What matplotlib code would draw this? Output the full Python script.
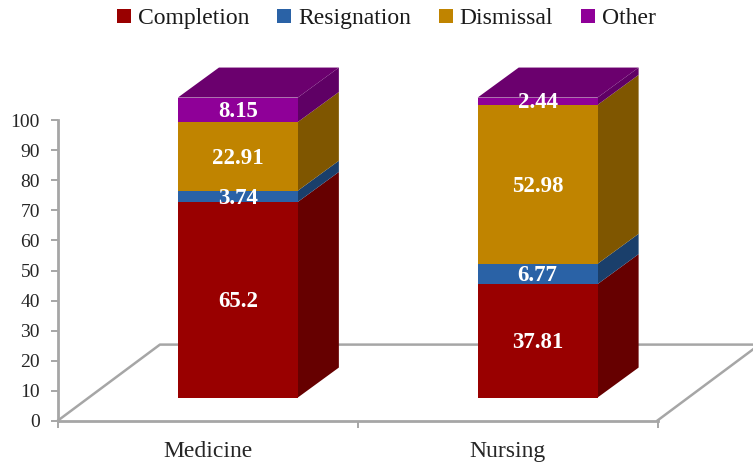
import matplotlib
matplotlib.use("Agg")
import matplotlib.pyplot as plt
from matplotlib.patches import Patch, Polygon

plt.rcParams['font.family'] = ['Liberation Serif', 'DejaVu Serif']

categories = ['Medicine', 'Nursing']
series_names = ['Completion', 'Resignation', 'Dismissal', 'Other']
completion = [65.2, 37.81]
resignation = [3.74, 6.77]
dismissal = [22.91, 52.98]
other = [8.15, 2.44]
series_values = [completion, resignation, dismissal, other]
y_ticks = list(range(0, 101, 10))

# Colors
FRONT = ['#990000', '#2A62A6', '#C08400', '#8F0098']
SIDE = ['#660000', '#1A3F6B', '#7F5600', '#5F0065']
TOP = '#6B006E'
AXIS_GRAY = '#A6A6A6'

# 3d look, in data units (1 unit x = 299.5 px, 1 unit y = 3 px)
BAR_W = 0.4
BAR_SHIFT = 0.1
BASE = 7.65
DX, DY = 0.137, 10.0
FLOOR_DX, FLOOR_DY = 0.34, 25.3

W, H = 753, 465
fig = plt.figure(figsize=(W / 100, H / 100), dpi=100)
ax = fig.add_axes([58 / W, 1 - 420.5 / H, 599.5 / W, 300 / H])
ax.set_xlim(0, 2)
ax.set_ylim(0, 100)
ax.patch.set_alpha(0)

# floor
floor_x = [0, FLOOR_DX, 2 + FLOOR_DX, 2]
floor_y = [0, FLOOR_DY, FLOOR_DY, 0]
ax.plot(floor_x, floor_y, color=AXIS_GRAY, lw=1.8, clip_on=False, zorder=1)

# stacked boxes
for i, cat in enumerate(categories):
    x0 = i + 0.5 + BAR_SHIFT - BAR_W / 2
    x1 = x0 + BAR_W
    bottom = BASE
    for s, vals in enumerate(series_values):
        v = vals[i]
        ax.bar(x0, v, width=BAR_W, bottom=bottom, align='edge', color=FRONT[s],
               edgecolor='none', clip_on=False, zorder=3)
        side = [(x1, bottom), (x1 + DX, bottom + DY), (x1 + DX, bottom + v + DY), (x1, bottom + v)]
        ax.add_patch(Polygon(side, closed=True, facecolor=SIDE[s], edgecolor='none',
                             clip_on=False, zorder=2))
        ax.annotate(str(v), ((x0 + x1) / 2, bottom + v / 2), xytext=(0, -1.2),
                    textcoords='offset points', color='white', fontsize=16.5,
                    fontweight='bold', ha='center', va='center', annotation_clip=False, zorder=4)
        bottom += v
    top = [(x0, bottom), (x0 + DX, bottom + DY), (x1 + DX, bottom + DY), (x1, bottom)]
    ax.add_patch(Polygon(top, closed=True, facecolor=TOP, edgecolor='none',
                         clip_on=False, zorder=2))

# axes
for name in ['top', 'right']:
    ax.spines[name].set_visible(False)
for name in ['left', 'bottom']:
    ax.spines[name].set_color(AXIS_GRAY)
    ax.spines[name].set_linewidth(2)
ax.set_yticks(y_ticks)
ax.set_xticks([0, 1, 2])
ax.set_xticklabels([])
ax.set_xticks([0.5, 1.5], labels=categories, minor=True)
ax.tick_params(axis='y', which='major', length=5, width=1.4, color=AXIS_GRAY,
               labelsize=14, labelcolor='#262626', pad=8)
ax.tick_params(axis='x', which='major', length=5, width=1.4, color=AXIS_GRAY)
ax.tick_params(axis='x', which='minor', length=0, labelsize=17, labelcolor='#262626', pad=15)

handles = [Patch(facecolor=c, edgecolor='none') for c in FRONT]
fig.legend(handles, series_names, loc='upper center', bbox_to_anchor=(386.5 / W, 1 + 13 / H),
           ncol=4, frameon=False, fontsize=17, handlelength=0.59, handleheight=0.59,
           handletextpad=0.28, columnspacing=1.19, labelcolor='#1a1a1a')

fig.savefig('out.png', dpi=100)
